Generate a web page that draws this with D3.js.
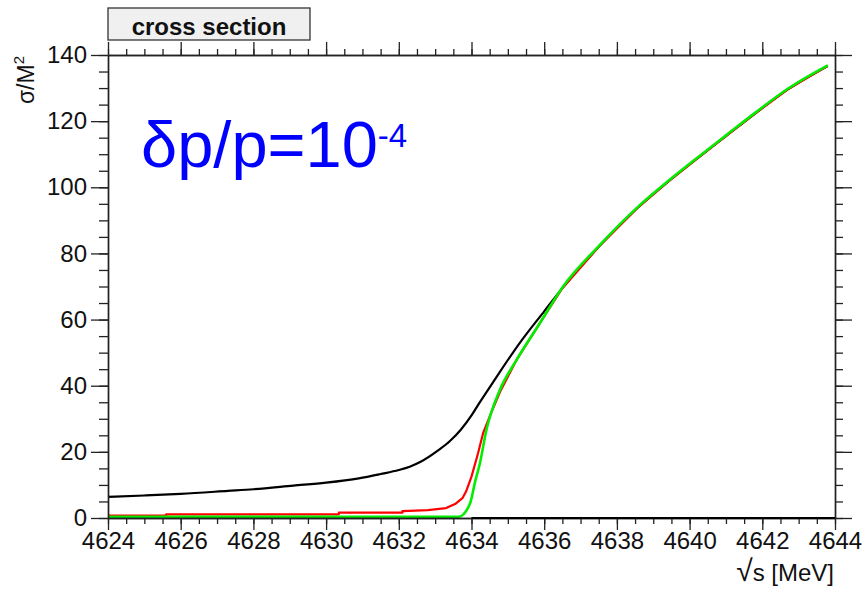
<!DOCTYPE html>
<html>
<head>
<meta charset="utf-8">
<script src="https://cdn.jsdelivr.net/npm/d3@7"></script>
<style>
  body { margin: 0; background: #fff; }
  #chart { width: 865px; height: 592px; }
  text { font-family: "Liberation Sans", Arial, sans-serif; }
</style>
</head>
<body>
<div id="chart"></div>
<script>
// energies (MeV) and sigma/M^2
var blackX = [4624, 4625, 4626, 4627.3, 4628, 4629.1, 4630, 4630.9, 4631.5, 4632, 4632.3, 4632.6, 4633.1, 4633.4, 4633.7, 4634.0, 4634.2, 4634.5, 4634.8, 4635.3, 4636.0, 4636.5, 4637.5, 4638.6, 4639.4, 4640.3, 4641.0, 4641.8, 4642.7, 4643.8];
var blackY = [6.4, 6.8, 7.3, 8.2, 8.7, 9.8, 10.7, 12.0, 13.3, 14.5, 15.5, 17.0, 20.6, 23.2, 26.6, 31.0, 34.5, 39.5, 44.5, 52.5, 62.5, 69.5, 82.0, 94.1, 101.6, 109.5, 115.5, 122.3, 129.6, 136.7];

var redX = [4624, 4625.6, 4625.6, 4630.35, 4630.35, 4632.1, 4632.1, 4632.8, 4633.3, 4633.55, 4633.75, 4633.85, 4634.0, 4634.18, 4634.32, 4634.55, 4634.8, 4635.24, 4635.88, 4636.5, 4637.5, 4638.6, 4639.4, 4640.3, 4641.0, 4641.8, 4642.7, 4643.8];
var redY = [0.7, 0.7, 1.1, 1.1, 1.6, 1.6, 2.1, 2.4, 3.0, 4.2, 6.0, 8.0, 12.5, 19.6, 25.7, 32.0, 38.5, 47.8, 58.9, 69.5, 82.0, 94.1, 101.6, 109.5, 115.5, 122.3, 129.6, 136.7];

var greenX = [4624, 4633.65, 4633.96, 4634.1, 4634.23, 4634.41, 4634.78, 4635.24, 4635.88, 4636.5, 4637.5, 4638.6, 4639.4, 4640.3, 4641.0, 4641.8, 4642.7, 4643.8];
var greenY = [0.4, 0.4, 4.4, 11.0, 16.5, 26.6, 38.7, 47.8, 58.9, 69.7, 82.2, 94.3, 101.8, 109.7, 115.7, 122.5, 129.8, 136.9];

var xMajor = d3.range(4624, 4645, 2);
var xMinor = d3.range(4624, 4644.01, 0.5);
var yMajor = d3.range(0, 141, 20);
var yMinor = d3.range(0, 140.01, 5);

var width = 865, height = 592;
var margin = {top: 55, left: 108, right: 30, bottom: 74};

var svg = d3.select("#chart").append("svg")
    .attr("width", width)
    .attr("height", height);

var xScale = d3.scaleLinear()
    .domain([4624, 4644])
    .range([margin.left, width - margin.right]);

var yScale = d3.scaleLinear()
    .domain([0, 140])
    .range([height - margin.bottom, margin.top]);

var x0 = xScale.range()[0], x1 = xScale.range()[1];
var y0 = yScale.range()[0], y1 = yScale.range()[1];

// curves
var series = [
  {xs: blackX, ys: blackY, color: "#000000", w: 2.2, curve: d3.curveMonotoneX},
  {xs: redX, ys: redY, color: "#ff0000", w: 2.2, curve: d3.curveLinear},
  {xs: greenX, ys: greenY, color: "#00ee00", w: 2.6, curve: d3.curveMonotoneX}
];

series.forEach(function(s) {
  var line = d3.line()
      .x(function(d) { return xScale(d[0]); })
      .y(function(d) { return yScale(d[1]); })
      .curve(s.curve);
  var pts = s.xs.map(function(v, i) { return [v, s.ys[i]]; });
  svg.append("path")
      .attr("d", line(pts))
      .attr("fill", "none")
      .attr("stroke", s.color)
      .attr("stroke-width", s.w)
      .attr("stroke-linejoin", "round");
});

// axes (ticks outside, ROOT style)
function styleAxis(g) {
  g.select(".domain").attr("stroke", "#222").attr("stroke-width", 1.4);
  g.selectAll(".tick line").attr("stroke", "#222").attr("stroke-width", 1.3);
  g.selectAll(".tick text").attr("fill", "#111").attr("font-size", "24px")
      .attr("font-family", "'Liberation Sans', Arial, sans-serif");
}

svg.append("g").attr("transform", `translate(0,${y0})`)
    .call(d3.axisBottom(xScale).tickValues(xMinor).tickSize(6).tickFormat("").tickSizeOuter(0))
    .call(styleAxis);
svg.append("g").attr("transform", `translate(0,${y0})`)
    .call(d3.axisBottom(xScale).tickValues(xMajor).tickSize(12).tickPadding(2).tickFormat(d3.format("d")).tickSizeOuter(0))
    .call(styleAxis);

svg.append("g").attr("transform", `translate(0,${y1})`)
    .call(d3.axisTop(xScale).tickValues(xMinor).tickSize(6).tickFormat("").tickSizeOuter(0))
    .call(styleAxis);
svg.append("g").attr("transform", `translate(0,${y1})`)
    .call(d3.axisTop(xScale).tickValues(xMajor).tickSize(13).tickFormat("").tickSizeOuter(0))
    .call(styleAxis);

svg.append("g").attr("transform", `translate(${x0},0)`)
    .call(d3.axisLeft(yScale).tickValues(yMinor).tickSize(9).tickFormat("").tickSizeOuter(0))
    .call(styleAxis);
svg.append("g").attr("transform", `translate(${x0},0)`)
    .call(d3.axisLeft(yScale).tickValues(yMajor).tickSize(17).tickPadding(4).tickFormat(d3.format("d")).tickSizeOuter(0))
    .call(styleAxis);

svg.append("g").attr("transform", `translate(${x1},0)`)
    .call(d3.axisRight(yScale).tickValues(yMinor).tickSize(8).tickFormat("").tickSizeOuter(0))
    .call(styleAxis);
svg.append("g").attr("transform", `translate(${x1},0)`)
    .call(d3.axisRight(yScale).tickValues(yMajor).tickSize(17).tickFormat("").tickSizeOuter(0))
    .call(styleAxis);

// bottom line is drawn a bit heavier
svg.append("line")
    .attr("x1", xScale(4634)).attr("x2", x1)
    .attr("y1", y0).attr("y2", y0)
    .attr("stroke", "#000").attr("stroke-width", 2);

// title box
svg.append("rect")
    .attr("x", x0).attr("y", 8)
    .attr("width", 202).attr("height", 32)
    .attr("fill", "#f0f0f0")
    .attr("stroke", "#333").attr("stroke-width", 1.3);

svg.append("text")
    .attr("x", x0 + 101).attr("y", 35)
    .attr("text-anchor", "middle")
    .attr("font-size", "24px")
    .attr("font-weight", "bold")
    .attr("fill", "#111")
    .text("cross section");

// axis titles
var yTitle = svg.append("text")
    .attr("transform", "rotate(-90)")
    .attr("x", -56).attr("y", 34)
    .attr("text-anchor", "end")
    .attr("font-size", "23px")
    .attr("fill", "#111");
yTitle.append("tspan").text("σ/M");
yTitle.append("tspan").attr("font-size", "15px").attr("dy", -10).text("2");

var xTitle = svg.append("text")
    .attr("x", x1 - 1).attr("y", 581)
    .attr("text-anchor", "end")
    .attr("font-size", "24px")
    .attr("fill", "#111");
xTitle.append("tspan").attr("font-size", "30px").text("√");
xTitle.append("tspan").text("s [MeV]");

// annotation
var note = svg.append("text")
    .attr("x", 141).attr("y", 167)
    .attr("font-size", "65px")
    .attr("fill", "#0000ff");
note.append("tspan").text("δp/p=10");
note.append("tspan").attr("font-size", "33px").attr("dy", -20).text("-4");
</script>
</body>
</html>
